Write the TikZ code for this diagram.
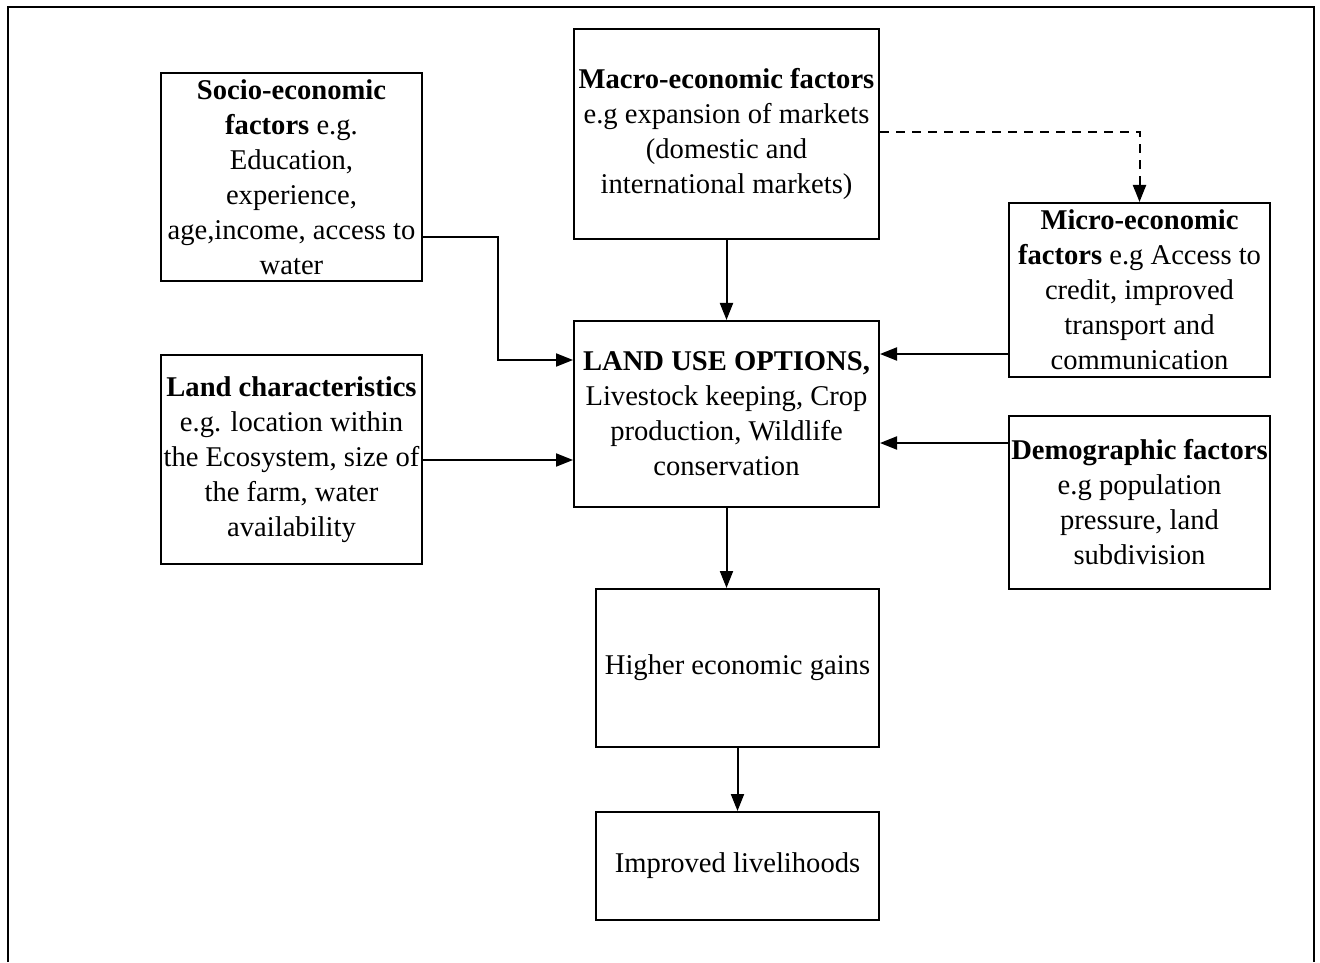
\documentclass[tikz,border=0pt]{standalone}
\usepackage{fontspec}
\setmainfont{Liberation Serif}
\usetikzlibrary{arrows.meta}
\tikzset{
  factor/.style={draw, line width=1pt, align=center, inner sep=0pt,
    font=\fontsize{14.3pt}{17.5pt}\selectfont},
  link/.style={line width=1pt, -{Triangle[length=8.5pt,width=6.5pt]}},
}
\begin{document}
\begin{tikzpicture}[x=0.5pt, y=-0.5pt]%
\useasboundingbox (0,0) rectangle (1320,962);
% outer frame, open at the bottom
\draw [line width=1.4pt] (8,962) -- (8,7) -- (1314,7) -- (1314,962);
% factor boxes
\node [factor, minimum width=130.5pt, minimum height=104pt] (socio) at (291.5,177) {%
\textbf{Socio-economic}\\
\textbf{factors} e.g.\\
Education,\\
experience,\\
age,income, access to\\
water};
\node [factor, minimum width=152.5pt, minimum height=105pt] (macro) at (726.5,134) {%
\textbf{Macro-economic factors}\\
e.g expansion of markets\\
(domestic and\\
international markets)};
\node [factor, minimum width=130.5pt, minimum height=87pt] (micro) at (1139.5,290) {%
\textbf{Micro-economic}\\
\textbf{factors} e.g Access to\\
credit, improved\\
transport and\\
communication};
\node [factor, minimum width=130.5pt, minimum height=104.5pt] (landchar) at (291.5,459.5) {%
\textbf{Land characteristics}\\
e.g. location within\\
the Ecosystem, size of\\
the farm, water\\
availability};
\node [factor, minimum width=152.5pt, minimum height=93pt] (landuse) at (726.5,414) {%
\textbf{LAND USE OPTIONS,}\\
Livestock keeping, Crop\\
production, Wildlife\\
conservation};
\node [factor, minimum width=130.5pt, minimum height=86.5pt] (demo) at (1139.5,502.5) {%
\textbf{Demographic factors}\\
e.g population\\
pressure, land\\
subdivision};
\node [factor, minimum width=141.5pt, minimum height=79pt] (gains) at (737.5,668) {Higher economic gains};
\node [factor, minimum width=141.5pt, minimum height=54pt] (livelihoods) at (737.5,866) {Improved livelihoods};
% connectors
\draw [link] (socio.east |- 0,237) -- (498,237) |- (landuse.west |- 0,360);
\draw [link] (landchar.east |- 0,460) -- (landuse.west |- 0,460);
\draw [link] (macro.south) -- (landuse.north);
\draw [link, dash pattern=on 4.5pt off 3.5pt] (macro.east |- 0,132) -| (micro.north);
\draw [link] (micro.west |- 0,354) -- (landuse.east |- 0,354);
\draw [link] (demo.west |- 0,443) -- (landuse.east |- 0,443);
\draw [link] (landuse.south) -- (landuse.south |- gains.north);
\draw [link] (gains.south) -- (livelihoods.north);
\end{tikzpicture}
\end{document}
